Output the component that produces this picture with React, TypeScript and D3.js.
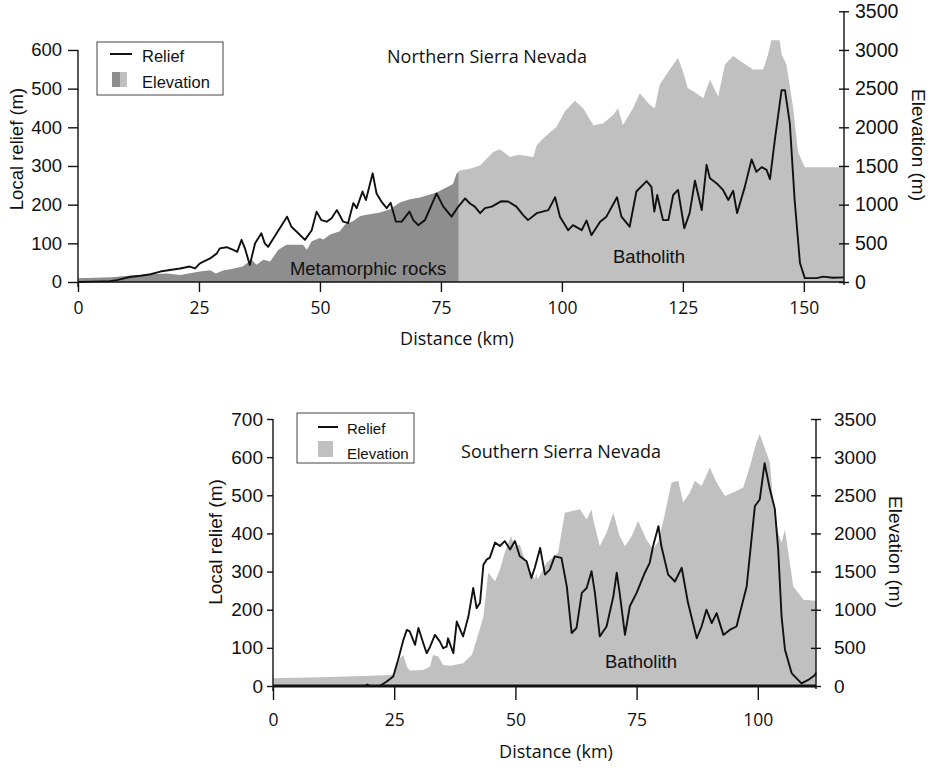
import React, { useEffect, useRef } from "react";
import * as d3 from "d3";

type Pt = [number, number]; // [distance km, value m]

// Northern Sierra Nevada profile
const northRelief: Pt[] = [
  [0, 0], [3, 1], [6.6, 2], [8, 5], [10.7, 13], [13, 16], [15, 20], [17, 27], [19, 31], [21.1, 35],
  [23.1, 40], [24.2, 35], [25.2, 48], [27.3, 61], [28.7, 74], [29.3, 87], [30.7, 90], [32.1, 83],
  [32.9, 78], [33.8, 109], [34.5, 87], [35.5, 44], [36.6, 100], [37.9, 126], [38.6, 100], [39.3, 91],
  [40.4, 113], [41.7, 139], [43.2, 169], [44.1, 143], [45.2, 130], [46.9, 109], [48.3, 134], [49.3, 182],
  [50.3, 160], [51.4, 156], [52.4, 165], [53.5, 186], [54.8, 156], [55.8, 152], [56.9, 204], [57.6, 191],
  [58.8, 234], [59.5, 212], [60.9, 281], [61.7, 229], [62.7, 208], [63.8, 191], [64.6, 205], [65.7, 156],
  [66.9, 156], [68.5, 182], [69.3, 160], [70.3, 147], [71.7, 160], [74.1, 229], [75.5, 195], [77.2, 169],
  [78.6, 195], [80, 216], [81, 203], [82, 195], [83.1, 178], [84.1, 191], [85.5, 195], [87.5, 209],
  [88.9, 208], [90.6, 195], [92, 173], [93, 160], [94.8, 178], [97.2, 186], [98.6, 219], [99.6, 169],
  [101.3, 134], [102.3, 147], [104.1, 134], [105.1, 159], [106.1, 121], [107.9, 156], [109.2, 169],
  [111.4, 219], [112.3, 169], [114, 143], [115.4, 234], [117.5, 261], [118.5, 246], [119.1, 182],
  [119.7, 225], [120.9, 160], [122, 160], [123, 225], [124, 238], [125.3, 139], [126.4, 178],
  [127.5, 262], [128.9, 186], [129.9, 303], [130.6, 268], [132, 255], [133.3, 238], [134.4, 212],
  [135.4, 236], [136.2, 178], [137.8, 246], [139.2, 317], [140.2, 285], [141.3, 297], [142.3, 290],
  [143, 266], [144, 367], [145.4, 496], [146.1, 496], [147.1, 411], [148.1, 212], [149.2, 49],
  [150.2, 10], [152.6, 10], [154, 14], [156, 11], [158.3, 12],
];

const northElevation: Pt[] = [
  [0, 50], [7, 60], [12, 90], [18.4, 110], [21.1, 91], [25.2, 135], [27.3, 152], [28.5, 110], [30, 150],
  [32, 170], [34, 200], [35.9, 287], [36.9, 222], [38.3, 287], [39.7, 265], [41.4, 418], [43.1, 483],
  [46.5, 483], [47.3, 418], [48.3, 527], [50, 570], [50.7, 548], [52.1, 614], [54.1, 657], [55.2, 745],
  [56.9, 788], [58.3, 853], [60.3, 875], [62.4, 897], [64.5, 940], [66.5, 1027], [68.6, 1071],
  [70.7, 1093], [74.1, 1158], [76.2, 1224], [77.5, 1267], [78.2, 1397], [78.9, 1441], [81, 1463],
  [83.1, 1506], [85.8, 1680], [87.2, 1715], [89.3, 1615], [91, 1645], [94.1, 1615], [94.8, 1767],
  [96.1, 1854], [98.9, 2007], [100.6, 2203], [102.7, 2342], [104.4, 2246], [106.5, 2028],
  [108.5, 2050], [110.6, 2159], [111.6, 2246], [112.6, 2028], [114.7, 2246], [116.1, 2442],
  [118.2, 2289], [119.2, 2246], [120.2, 2551], [122.3, 2747], [124, 2899], [125, 2725], [126, 2508],
  [127.8, 2442], [129.2, 2377], [130.6, 2616], [132.3, 2399], [133.7, 2812], [135.4, 2921],
  [137.4, 2834], [139.5, 2747], [141.6, 2747], [142.6, 2943], [143.3, 3125], [145, 3125],
  [145.4, 2943], [146.4, 2812], [147.8, 2246], [148.8, 1680], [150.2, 1485], [158.3, 1485],
];

const northContactKm = 78.7; // metamorphic rocks / batholith
const northMaxKm = 158.3;

// Southern Sierra Nevada profile
const southRelief: Pt[] = [
  [0, 0], [19, 0], [19.4, 4], [20, 0], [22, 0], [23.4, 11], [24.8, 25], [25.8, 68], [26.9, 121],
  [27.6, 147], [28.2, 143], [29.3, 108], [30, 152], [31, 112], [31.7, 86], [32.4, 103], [33.4, 134],
  [34.4, 117], [35.1, 99], [35.8, 103], [36.1, 125], [37.2, 86], [37.9, 169], [39.2, 130], [40.3, 182],
  [41.3, 257], [42, 204], [42.7, 218], [43.4, 318], [44.1, 332], [44.7, 336], [45.8, 376], [46.8, 367],
  [47.8, 380], [48.9, 358], [49.9, 380], [50.9, 340], [52.3, 327], [53.3, 283], [54, 310], [55.1, 362],
  [56.1, 292], [57.1, 305], [58.1, 340], [59.5, 336], [60.6, 261], [61.6, 139], [62.6, 152],
  [63.7, 244], [64.7, 257], [65.7, 301], [66.4, 244], [67.4, 130], [68.8, 156], [70.2, 235],
  [70.9, 297], [71.5, 244], [72.6, 134], [73.6, 209], [75, 244], [76.7, 297], [77.7, 323], [78.4, 367],
  [79.5, 419], [80.1, 367], [81.5, 292], [82.9, 274], [84.3, 310], [85.6, 218], [87.4, 125], [88.4, 156],
  [89.4, 200], [90.5, 165], [91.5, 191], [92.9, 134], [94.2, 147], [95.6, 156], [97.7, 261],
  [99.4, 472], [100.4, 489], [101.4, 584], [102.5, 515], [103.5, 465], [104.2, 358], [104.9, 182],
  [105.6, 95], [107, 33], [109, 7], [110.4, 16], [111.8, 29], [112, 35],
];

const southElevation: Pt[] = [
  [0, 100], [10, 115], [20, 135], [24.1, 145], [25, 160], [26.2, 364], [26.9, 408], [27.6, 254],
  [28.2, 202], [31, 210], [32.4, 254], [33, 408], [34.1, 386], [35.1, 276], [36.5, 267], [39.2, 298],
  [41, 408], [42, 605], [43.4, 912], [44.4, 1483], [45.2, 1420], [45.8, 1372], [46.8, 1526],
  [47.8, 1750], [49.1, 1965], [49.8, 1833], [50.9, 1855], [51.9, 1658], [54, 1395], [54.3, 1480],
  [54.6, 1395], [56.4, 1614], [58.8, 1746], [60.2, 2272], [63.3, 2316], [64.7, 2184], [65.7, 2316],
  [66, 2200], [67.4, 1833], [68.8, 2009], [70.2, 2272], [71.5, 1965], [72.6, 1833], [74, 1965],
  [75.3, 2162], [77, 1921], [78.4, 1789], [79.5, 1900], [80.5, 2162], [82.2, 2667], [83.6, 2689],
  [84.6, 2404], [86, 2535], [87, 2689], [88.4, 2623], [90.1, 2864], [91.5, 2667], [93.2, 2491],
  [94.9, 2535], [97, 2601], [98.4, 2886], [99.7, 3193], [100.4, 3300], [101, 3193], [102.5, 2930],
  [103.1, 2447], [104.2, 2009], [104.9, 1877], [105.6, 2053], [106.3, 1746], [107.3, 1307],
  [109.4, 1132], [112, 1118],
];

const southMaxKm = 112;

const northDistanceTicks = [0, 25, 50, 75, 100, 125, 150];
const southDistanceTicks = [0, 25, 50, 75, 100];
const northReliefTicks = [0, 100, 200, 300, 400, 500, 600];
const southReliefTicks = [0, 100, 200, 300, 400, 500, 600, 700];
const elevationTicks = [0, 500, 1000, 1500, 2000, 2500, 3000, 3500];

const ARIAL = '"Liberation Sans", Arial, sans-serif';
const MYRIAD = '"Open Sans", "Noto Sans", sans-serif';
const DARK = "#8e8e8e";
const LIGHT = "#c0c0c0";

type Panel = {
  id: string;
  x0: number; x1: number; y0: number; y1: number;
  maxKm: number;
  relief: Pt[];
  elevation: Pt[];
  contactKm?: number;
  distanceTicks: number[];
  reliefTicks: number[];
  leftTick: number; leftPad: number;
  rightPad: number;
  bottomTick: number; bottomPad: number;
  baseWidth: number;
  tickFont: number; rightFont: number;
};

function drawPanel(svg: d3.Selection<SVGSVGElement, unknown, null, undefined>, p: Panel) {
  const x = d3.scaleLinear().domain([0, p.maxKm]).range([p.x0, p.x1]);
  const yR = d3.scaleLinear().domain([0, 700]).range([p.y0, p.y1]);
  const yE = d3.scaleLinear().domain([0, 3500]).range([p.y0, p.y1]);

  const g = svg.append("g");
  const area = d3.area<Pt>().x(d => x(d[0])).y0(yE(0)).y1(d => yE(d[1]));

  if (p.contactKm !== undefined) {
    const defs = g.append("defs");
    defs.append("clipPath").attr("id", `${p.id}-meta`)
      .append("rect").attr("x", x(0)).attr("y", 0)
      .attr("width", x(p.contactKm) - x(0)).attr("height", p.y0 + 1);
    defs.append("clipPath").attr("id", `${p.id}-bath`)
      .append("rect").attr("x", x(p.contactKm)).attr("y", 0)
      .attr("width", x(p.maxKm) - x(p.contactKm)).attr("height", p.y0 + 1);
    g.append("path").datum(p.elevation).attr("d", area).attr("fill", DARK)
      .attr("clip-path", `url(#${p.id}-meta)`);
    g.append("path").datum(p.elevation).attr("d", area).attr("fill", LIGHT)
      .attr("clip-path", `url(#${p.id}-bath)`);
  } else {
    g.append("path").datum(p.elevation).attr("d", area).attr("fill", LIGHT);
  }

  const line = d3.line<Pt>().x(d => x(d[0])).y(d => yR(d[1]));
  g.append("path").datum(p.relief).attr("d", line)
    .attr("fill", "none").attr("stroke", "#111").attr("stroke-width", 1.9)
    .attr("stroke-linejoin", "round");

  // left axis (local relief)
  const left = g.append("g").attr("transform", `translate(${p.x0},0)`)
    .call(d3.axisLeft(yR).tickValues(p.reliefTicks).tickSize(p.leftTick).tickPadding(p.leftPad));
  left.select(".domain").remove();
  left.append("line")
    .attr("y1", yR(d3.max(p.reliefTicks) as number)).attr("y2", p.y0 + 5)
    .attr("stroke", "#111").attr("stroke-width", 1.4);
  left.selectAll("text").attr("font-family", ARIAL).attr("font-size", p.tickFont).attr("fill", "#111");
  left.selectAll(".tick line").attr("stroke", "#111").attr("stroke-width", 1.4);

  // right axis (elevation)
  const right = g.append("g").attr("transform", `translate(${p.x1},0)`)
    .call(d3.axisRight(yE).tickValues(elevationTicks).tickFormat(d3.format("d"))
      .tickSize(5).tickPadding(p.rightPad));
  right.select(".domain").remove();
  right.append("line").attr("y1", yE(3500)).attr("y2", p.y0 + 3)
    .attr("stroke", "#111").attr("stroke-width", 1.4);
  right.selectAll(".tick line").attr("x1", -5).attr("x2", 5)
    .attr("stroke", "#111").attr("stroke-width", 1.4);
  right.selectAll("text").attr("font-family", ARIAL).attr("font-size", p.rightFont).attr("fill", "#111");

  // bottom axis (distance)
  const bottom = g.append("g").attr("transform", `translate(0,${p.y0})`)
    .call(d3.axisBottom(x).tickValues(p.distanceTicks).tickSize(p.bottomTick).tickPadding(p.bottomPad));
  bottom.select(".domain").remove();
  bottom.append("line").attr("x1", x(0)).attr("x2", x(p.maxKm))
    .attr("stroke", "#111").attr("stroke-width", p.baseWidth);
  bottom.selectAll(".tick line").attr("stroke", "#111").attr("stroke-width", 1.4);
  bottom.selectAll("text").attr("font-family", MYRIAD).attr("font-size", 17.5).attr("fill", "#111");

  return { x, yR, yE };
}

function addText(svg: d3.Selection<SVGSVGElement, unknown, null, undefined>, txt: string,
  x: number, y: number, font: string, size: number, anchor = "middle", rotate = 0) {
  svg.append("text")
    .attr("transform", `translate(${x},${y}) rotate(${rotate})`)
    .attr("text-anchor", anchor)
    .attr("font-family", font).attr("font-size", size).attr("fill", "#111")
    .text(txt);
}

export default function App() {
  const ref = useRef<SVGSVGElement>(null);

  useEffect(() => {
    const svg = d3.select(ref.current as SVGSVGElement);
    svg.selectAll("*").remove();

    // ---- Northern panel ----
    drawPanel(svg, {
      id: "north", x0: 78, x1: 844, y0: 282, y1: 11.3, maxKm: northMaxKm,
      relief: northRelief, elevation: northElevation, contactKm: northContactKm,
      distanceTicks: northDistanceTicks, reliefTicks: northReliefTicks,
      leftTick: 10, leftPad: 6, rightPad: 6, bottomTick: 10, bottomPad: 10,
      baseWidth: 1.6, tickFont: 18.5, rightFont: 19.5,
    });

    addText(svg, "Northern Sierra Nevada", 487, 63, MYRIAD, 18);
    addText(svg, "Metamorphic rocks", 368, 275, ARIAL, 18.5);
    addText(svg, "Batholith", 649, 263, ARIAL, 18.5);
    addText(svg, "Distance (km)", 457, 345, MYRIAD, 18);
    addText(svg, "Local relief (m)", 23, 149, ARIAL, 18.5, "middle", -90);
    addText(svg, "Elevation (m)", 912, 145, ARIAL, 19, "middle", 90);

    // legend (north)
    const ln = svg.append("g");
    ln.append("rect").attr("x", 97).attr("y", 42).attr("width", 126).attr("height", 53)
      .attr("fill", "white").attr("stroke", "#444").attr("stroke-width", 1);
    ln.append("line").attr("x1", 110).attr("x2", 132).attr("y1", 54).attr("y2", 54)
      .attr("stroke", "#111").attr("stroke-width", 2);
    ln.append("rect").attr("x", 112).attr("y", 72).attr("width", 8).attr("height", 15).attr("fill", DARK);
    ln.append("rect").attr("x", 120).attr("y", 72).attr("width", 7).attr("height", 15).attr("fill", LIGHT);
    ln.append("text").attr("x", 142).attr("y", 62).attr("font-family", ARIAL).attr("font-size", 16.5)
      .attr("fill", "#111").text("Relief");
    ln.append("text").attr("x", 142).attr("y", 88).attr("font-family", ARIAL).attr("font-size", 16.5)
      .attr("fill", "#111").text("Elevation");

    // ---- Southern panel ----
    drawPanel(svg, {
      id: "south", x0: 273, x1: 816, y0: 686, y1: 419, maxKm: southMaxKm,
      relief: southRelief, elevation: southElevation,
      distanceTicks: southDistanceTicks, reliefTicks: southReliefTicks,
      leftTick: 6, leftPad: 4, rightPad: 13, bottomTick: 14, bottomPad: 14,
      baseWidth: 3.2, tickFont: 19, rightFont: 19,
    });

    addText(svg, "Southern Sierra Nevada", 561, 458, MYRIAD, 18);
    addText(svg, "Batholith", 641, 668, ARIAL, 18.5);
    addText(svg, "Distance (km)", 556, 758, MYRIAD, 18);
    addText(svg, "Local relief (m)", 222, 542, ARIAL, 19, "middle", -90);
    addText(svg, "Elevation (m)", 889, 552, ARIAL, 19, "middle", 90);

    // legend (south)
    const ls = svg.append("g");
    ls.append("rect").attr("x", 297).attr("y", 413).attr("width", 117).attr("height", 50)
      .attr("fill", "white").attr("stroke", "#444").attr("stroke-width", 1);
    ls.append("line").attr("x1", 318).attr("x2", 338).attr("y1", 427).attr("y2", 427)
      .attr("stroke", "#111").attr("stroke-width", 2);
    ls.append("rect").attr("x", 318).attr("y", 441).attr("width", 15).attr("height", 16).attr("fill", LIGHT);
    ls.append("text").attr("x", 347).attr("y", 434).attr("font-family", ARIAL).attr("font-size", 15)
      .attr("fill", "#111").text("Relief");
    ls.append("text").attr("x", 347).attr("y", 459).attr("font-family", ARIAL).attr("font-size", 15)
      .attr("fill", "#111").text("Elevation");
  }, []);

  return (
    <svg
      ref={ref}
      width={933}
      height={771}
      viewBox="0 0 933 771"
      style={{ position: "absolute", left: 0, top: 0, background: "white" }}
    />
  );
}
